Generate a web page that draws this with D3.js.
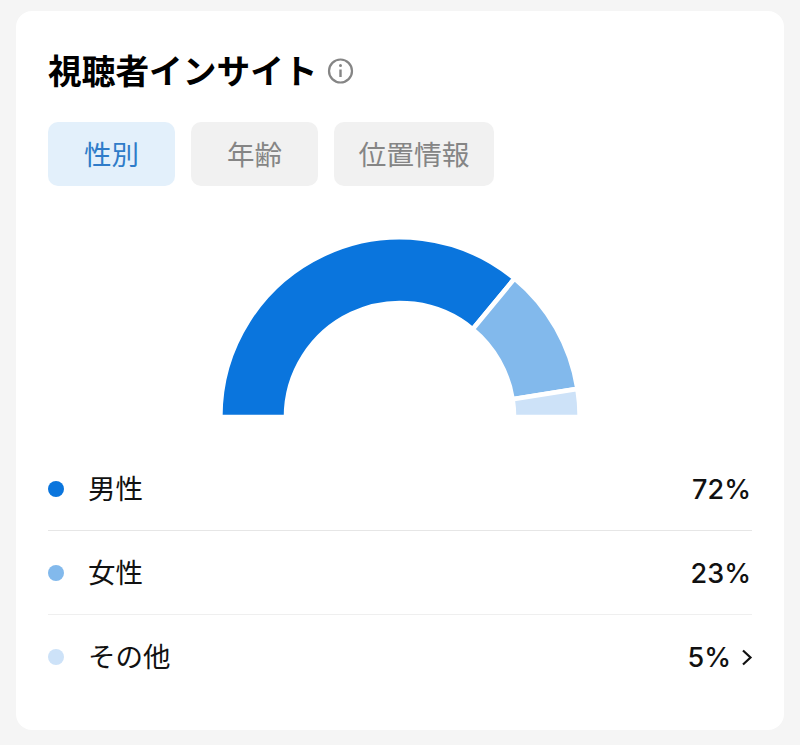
<!DOCTYPE html>
<html><head><meta charset="utf-8">
<script src="https://cdn.jsdelivr.net/npm/d3@7"></script>
<style>html,body{margin:0;padding:0;background:#f5f5f5}svg{display:block}</style>
</head><body><div id="c"></div>
<script>
const title = "視聴者インサイト";
const tabs = ["性別","年齢","位置情報"];
const categories = ["男性","女性","その他"];
const values = [72,23,5];
const colors = ["#0a75dd","#82b9ec","#cde2f8"];
const W=800,H=745;
const font = "'Noto Sans CJK JP','Noto Sans',sans-serif";
const svg = d3.select("#c").append("svg").attr("width",W).attr("height",H).attr("font-family",font);
svg.append("rect").attr("width",W).attr("height",H).attr("fill","#f5f5f5");
svg.append("rect").attr("x",16).attr("y",11).attr("width",768).attr("height",719).attr("rx",16).attr("fill","#fff");

svg.append("text").attr("x",48).attr("y",84).attr("font-size",33.7).attr("font-weight",700).attr("fill","#000").text(title);
const info = svg.append("g").attr("transform","translate(340.5,71)").attr("fill","none").attr("stroke","#858585");
info.append("circle").attr("r",11.5).attr("stroke-width",2.2);
info.append("line").attr("y1",-1.5).attr("y2",6).attr("stroke-width",2.4);
info.append("circle").attr("cy",-5.5).attr("r",1.5).attr("fill","#858585").attr("stroke","none");

const tabX=[48,191,334], tabW=[127,127,160];
tabs.forEach((t,i)=>{
  svg.append("rect").attr("x",tabX[i]).attr("y",122).attr("width",tabW[i]).attr("height",64).attr("rx",10).attr("fill",i==0?"#e3f0fb":"#f1f1f1");
  svg.append("text").attr("x",tabX[i]+tabW[i]/2).attr("y",165).attr("text-anchor","middle").attr("font-size",i==2?27.8:27.5).attr("fill",i==0?"#2f7cc9":"#858585").text(t);
});

const pie=d3.pie().sort(null).startAngle(-Math.PI/2).endAngle(Math.PI/2);
const arc=d3.arc().innerRadius(114).outerRadius(179.7);
svg.append("g").attr("transform","translate(400,417)").selectAll("path").data(pie(values)).join("path")
  .attr("d",arc).attr("fill",(d,i)=>colors[i]).attr("stroke","#fff").attr("stroke-width",4.6).attr("stroke-linejoin","miter");
svg.append("rect").attr("x",200).attr("y",415).attr("width",400).attr("height",6).attr("fill","#fff");

const rowY=d3.scalePoint().domain(categories).range([489,657]);
categories.forEach((c,i)=>{
  const y=rowY(c);
  svg.append("circle").attr("cx",56).attr("cy",y).attr("r",8).attr("fill",colors[i]);
  svg.append("text").attr("x",88).attr("y",y+10).attr("font-size",27.5).attr("fill","#111").text(c);
  svg.append("text").attr("x",i==2?731:751).attr("y",y+10).attr("text-anchor","end").attr("font-size",27).attr("font-family","Inter,'Noto Sans',sans-serif").attr("font-weight",500).attr("fill","#111").text(values[i]+"%");
  if(i<2) svg.append("line").attr("x1",48).attr("x2",752).attr("y1",y+41.5).attr("y2",y+41.5).attr("stroke",i==0?"#e6e6e6":"#efefef").attr("stroke-width",1);
});
svg.append("path").attr("d","M743 650.5L750.5 657.5L743 664.5").attr("fill","none").attr("stroke","#111").attr("stroke-width",2.2);
</script></body></html>
